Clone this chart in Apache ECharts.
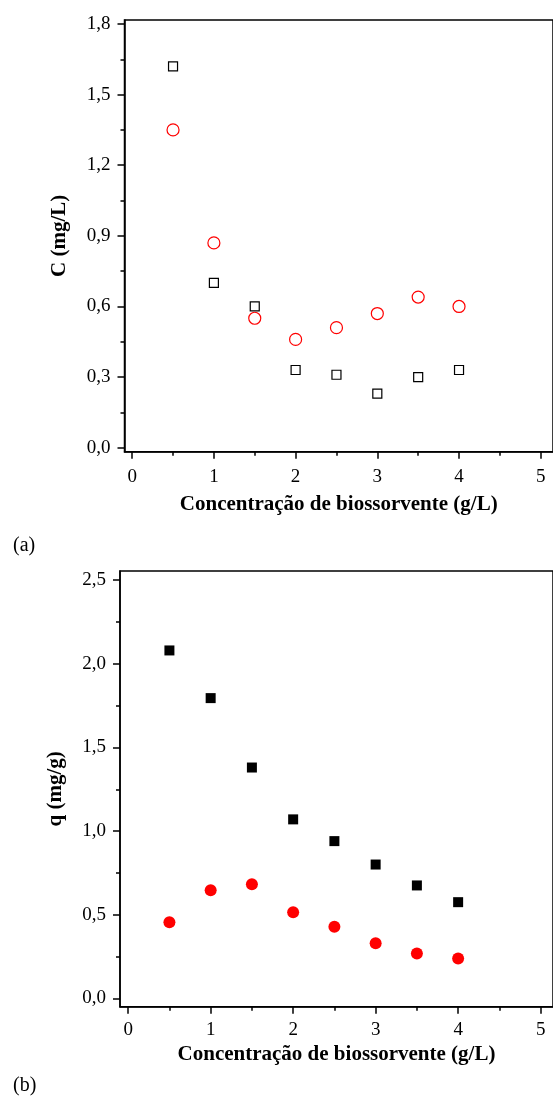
<!DOCTYPE html>
<html>
<head>
<meta charset="utf-8">
<script src="https://cdn.jsdelivr.net/npm/echarts@6/dist/echarts.min.js"></script>
<style>
  html, body { margin: 0; padding: 0; background: #fff; }
  #chart { width: 553px; height: 1108px; }
</style>
</head>
<body>
<div id="chart"></div>
<script>
// dados (g/L de biossorvente)
const dose = [0.5, 1.0, 1.5, 2.0, 2.5, 3.0, 3.5, 4.0];
// (a) concentração residual C (mg/L)
const cSquares = [1.62, 0.70, 0.60, 0.33, 0.31, 0.23, 0.30, 0.33];
const cCircles = [1.35, 0.87, 0.55, 0.46, 0.51, 0.57, 0.64, 0.60];
// (b) quantidade adsorvida q (mg/g)
const qSquares = [2.08, 1.795, 1.38, 1.07, 0.94, 0.80, 0.675, 0.575];
const qCircles = [0.455, 0.646, 0.682, 0.515, 0.428, 0.33, 0.268, 0.238];

// ticks
const xTicks = [0, 1, 2, 3, 4, 5];
const xMinor = [0.5, 1.5, 2.5, 3.5, 4.5];
const cTicks = [0, 0.3, 0.6, 0.9, 1.2, 1.5, 1.8];
const cMinor = [0.15, 0.45, 0.75, 1.05, 1.35, 1.65];
const qTicks = [0, 0.5, 1.0, 1.5, 2.0, 2.5];
const qMinor = [0.25, 0.75, 1.25, 1.75, 2.25];

const xName = 'Concentração de biossorvente (g/L)';
const FONT = '"Liberation Serif", "Times New Roman", serif';

const comma = v => v.toFixed(1).replace('.', ',');
const pair = (xs, ys) => xs.map((x, i) => [x, ys[i]]);

// eixo principal com ticks nas posições dadas
function mainAxis(grid, min, max, ticks, fmt, name, gap, margin, pos) {
  return {
    type: 'value', gridIndex: grid, min: min, max: max, position: pos,
    name: name, nameLocation: 'middle', nameGap: gap,
    nameTextStyle: { fontFamily: FONT, fontWeight: 'bold', fontSize: 21, color: '#000' },
    axisLine: { show: true, onZero: false, lineStyle: { color: '#000', width: 1.5 } },
    axisTick: { show: true, inside: false, length: 7, customValues: ticks, lineStyle: { color: '#000', width: 1.5 } },
    axisLabel: { show: true, customValues: ticks, formatter: fmt, margin: margin,
      fontFamily: FONT, fontSize: 19, color: '#000' },
    splitLine: { show: false }
  };
}

// eixo só para ticks menores
function minorAxis(grid, min, max, ticks, pos) {
  return {
    type: 'value', gridIndex: grid, min: min, max: max, position: pos,
    axisLine: { show: false, onZero: false },
    axisTick: { show: true, inside: false, length: 4, customValues: ticks, lineStyle: { color: '#000', width: 1.5 } },
    axisLabel: { show: false },
    splitLine: { show: false }
  };
}

const chart = echarts.init(document.getElementById('chart'));

chart.setOption({
  animation: false,
  backgroundColor: '#fff',
  grid: [
    { left: 124.5, top: 20, width: 437, height: 431.7, show: true, borderColor: '#000', borderWidth: 1.5 },
    { left: 120, top: 571, width: 439.3, height: 435.7, show: true, borderColor: '#000', borderWidth: 1.5 }
  ],
  xAxis: [
    mainAxis(0, -0.094, 5.15, xTicks, v => String(v), xName, 42, 16, 'bottom'),
    minorAxis(0, -0.094, 5.15, xMinor, 'bottom'),
    mainAxis(1, -0.099, 5.15, xTicks, v => String(v), xName, 37, 14, 'bottom'),
    minorAxis(1, -0.099, 5.15, xMinor, 'bottom')
  ],
  yAxis: [
    mainAxis(0, -0.017, 1.817, cTicks, comma, 'C (mg/L)', 54, 14, 'left'),
    minorAxis(0, -0.017, 1.817, cMinor, 'left'),
    mainAxis(1, -0.05, 2.555, qTicks, comma, 'q (mg/g)', 54, 14, 'left'),
    minorAxis(1, -0.05, 2.555, qMinor, 'left')
  ],
  series: [
    {
      type: 'scatter', xAxisIndex: 0, yAxisIndex: 0,
      data: pair(dose, cSquares), symbol: 'rect', symbolSize: 9,
      itemStyle: { color: '#fff', borderColor: '#000', borderWidth: 1.2, opacity: 1 }
    },
    {
      type: 'scatter', xAxisIndex: 0, yAxisIndex: 0,
      data: pair(dose, cCircles), symbol: 'circle', symbolSize: 12,
      itemStyle: { color: 'rgba(0,0,0,0)', borderColor: '#ff0000', borderWidth: 1.2, opacity: 1 }
    },
    {
      type: 'scatter', xAxisIndex: 2, yAxisIndex: 2,
      data: pair(dose, qSquares), symbol: 'rect', symbolSize: 10,
      itemStyle: { color: '#000', opacity: 1 }
    },
    {
      type: 'scatter', xAxisIndex: 2, yAxisIndex: 2,
      data: pair(dose, qCircles), symbol: 'circle', symbolSize: 12,
      itemStyle: { color: '#ff0000', opacity: 1 }
    }
  ],
  graphic: [
    { type: 'text', left: 13, top: 536, style: { text: '(a)', font: '20px ' + FONT, fill: '#000' } },
    { type: 'text', left: 13, top: 1076, style: { text: '(b)', font: '20px ' + FONT, fill: '#000' } }
  ]
});
</script>
</body>
</html>
